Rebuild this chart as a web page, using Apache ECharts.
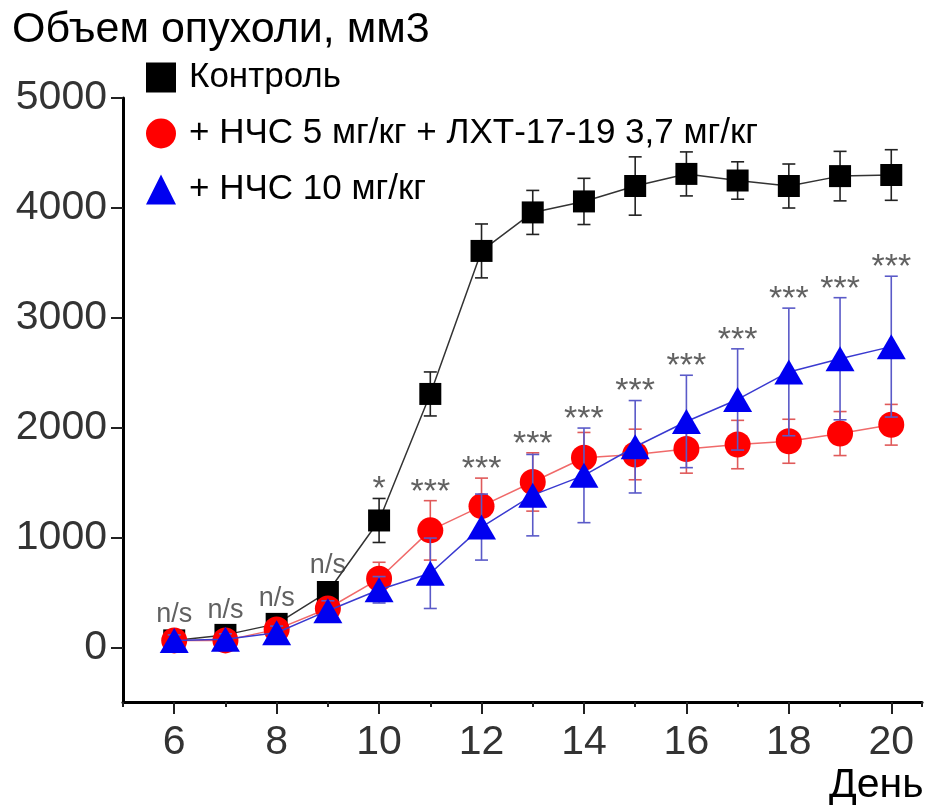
<!DOCTYPE html>
<html><head><meta charset="utf-8">
<script src="https://cdn.jsdelivr.net/npm/echarts@6/dist/echarts.min.js"></script>
<style>html,body{margin:0;padding:0;background:#fff}#c{width:931px;height:809px}</style>
</head><body><div id="c"></div>
<script>
const days = [6,7,8,9,10,11,12,13,14,15,16,17,18,19,20];
const yTicks = [0,1000,2000,3000,4000,5000];
const seriesNames = ['Контроль', '+ НЧС 5 мг/кг + ЛХТ-17-19 3,7 мг/кг', '+ НЧС 10 мг/кг'];
const controlMean = [70,120,220,510,1160,2310,3610,3960,4060,4200,4310,4250,4200,4290,4300];
const controlErr  = [40,40,50,60,200,200,245,200,210,265,200,170,200,225,230];
const comboMean   = [70,70,170,360,630,1070,1290,1510,1730,1760,1810,1850,1880,1950,2030];
const comboErr    = [40,40,50,60,150,270,255,265,230,230,220,220,200,200,185];
const nchsMean    = [70,80,140,340,530,680,1100,1390,1570,1830,2060,2260,2510,2630,2740];
const nchsErr     = [50,50,60,90,120,320,300,370,430,420,420,460,580,555,640];
const sigLabels   = ['n/s','n/s','n/s','n/s','*','***','***','***','***','***','***','***','***','***','***'];

const FONT = 'Liberation Sans, Arial, sans-serif';
const X_MIN = 5, X_MAX = 20.6, GRID_L = 123, GRID_R = 9;
const pxPerDay = (931 - GRID_L - GRID_R) / (X_MAX - X_MIN);

function errSeries(mean, err, color, z) {
  return {
    type: 'custom', z: z, silent: true,
    data: days.map((d, i) => [d, mean[i] - err[i], mean[i] + err[i]]),
    encode: { x: 0, y: [1, 2] },
    renderItem: function (params, api) {
      const x = api.value(0);
      const lo = api.coord([x, api.value(1)]);
      const hi = api.coord([x, api.value(2)]);
      const hw = 6.5;
      const st = { stroke: color, lineWidth: 1.6 };
      return { type: 'group', children: [
        { type: 'line', shape: { x1: lo[0], y1: lo[1], x2: hi[0], y2: hi[1] }, style: st },
        { type: 'line', shape: { x1: lo[0] - hw, y1: lo[1], x2: lo[0] + hw, y2: lo[1] }, style: st },
        { type: 'line', shape: { x1: hi[0] - hw, y1: hi[1], x2: hi[0] + hw, y2: hi[1] }, style: st }
      ]};
    }
  };
}

const sigData = days.map((d, i) => {
  const tops = [comboMean[i] + comboErr[i], nchsMean[i] + nchsErr[i]];
  const cTop = controlMean[i] + controlErr[i];
  if (cTop < Math.max(...tops) + 800) tops.push(cTop);
  const isStar = sigLabels[i].indexOf('*') >= 0;
  return {
    value: [d, Math.max(...tops), sigLabels[i]],
    label: isStar ? { fontSize: 34, distance: -9 } : { fontSize: 27, distance: 6 }
  };
});

const chart = echarts.init(document.getElementById('c'), null, { renderer: 'canvas' });
chart.setOption({
  animation: false,
  backgroundColor: '#fff',
  title: {
    text: 'Объем опухоли, мм3', left: 7, top: 4,
    textStyle: { fontFamily: FONT, fontSize: 43, fontWeight: 'normal', color: '#000' }
  },
  graphic: [{
    type: 'text', left: 829, top: 765,
    style: { text: 'День', fontFamily: FONT, fontSize: 41, fill: '#000' }
  }],
  legend: {
    orient: 'vertical', left: 141, top: 55, itemWidth: 30, itemHeight: 30, itemGap: 21,
    textStyle: { fontFamily: FONT, fontSize: 35, color: '#000', padding: [0, 0, 0, 8] },
    data: [
      { name: seriesNames[0], icon: 'rect' },
      { name: seriesNames[1], icon: 'circle' },
      { name: seriesNames[2], icon: 'triangle' }
    ]
  },
  grid: [
    { left: GRID_L, right: GRID_R, top: 98, bottom: 107 },
    // companion grid starting at day 6 for the long (labelled) ticks
    { left: GRID_L + pxPerDay, right: GRID_R, top: 98, bottom: 107 }
  ],
  xAxis: [{
    gridIndex: 0, type: 'value', min: X_MIN, max: X_MAX, interval: 1,
    axisLine: { show: true, onZero: false, lineStyle: { color: '#000', width: 3 } },
    axisTick: { show: true, length: 5, lineStyle: { color: '#222', width: 2 } },
    axisLabel: { show: false },
    splitLine: { show: false }
  }, {
    gridIndex: 1, type: 'value', min: 6, max: X_MAX, interval: 2,
    axisLine: { show: false, onZero: false },
    axisTick: { show: true, length: 12, lineStyle: { color: '#222', width: 2 } },
    axisLabel: { show: true, margin: 20, fontFamily: FONT, fontSize: 41, color: '#333' },
    splitLine: { show: false }
  }],
  yAxis: [{
    gridIndex: 0, type: 'value', min: -490, max: 5000,
    axisLine: { show: true, onZero: false, lineStyle: { color: '#000', width: 3 } },
    axisTick: { show: true, length: 12, customValues: yTicks, lineStyle: { color: '#222', width: 2 } },
    axisLabel: { customValues: yTicks, margin: 16, fontFamily: FONT, fontSize: 41, color: '#333',
      formatter: v => String(v) },
    splitLine: { show: false }
  }, {
    gridIndex: 1, type: 'value', min: 0, max: 1, show: false
  }],
  series: [
    errSeries(controlMean, controlErr, '#222', 2),
    {
      name: seriesNames[0], type: 'line', z: 3,
      data: days.map((d, i) => [d, controlMean[i]]),
      symbol: 'rect', symbolSize: 22,
      lineStyle: { color: '#333', width: 1.5 },
      itemStyle: { color: '#000' }
    },
    errSeries(comboMean, comboErr, '#e05a5a', 4),
    {
      name: seriesNames[1], type: 'line', z: 5,
      data: days.map((d, i) => [d, comboMean[i]]),
      symbol: 'circle', symbolSize: 26,
      lineStyle: { color: '#f06a6a', width: 1.5 },
      itemStyle: { color: '#ff0000' }
    },
    errSeries(nchsMean, nchsErr, '#5a5ac8', 6),
    {
      name: seriesNames[2], type: 'line', z: 7,
      data: days.map((d, i) => [d, nchsMean[i]]),
      symbol: 'triangle', symbolSize: [29, 25],
      lineStyle: { color: '#3a3ad0', width: 1.5 },
      itemStyle: { color: '#0000f0' }
    },
    {
      type: 'scatter', z: 8, silent: true,
      data: sigData,
      symbolSize: 1, itemStyle: { color: 'rgba(0,0,0,0)' },
      label: {
        show: true, position: 'top',
        formatter: p => p.value[2],
        fontFamily: FONT, color: '#3a3a3a'
      }
    }
  ]
});
</script>
</body></html>
